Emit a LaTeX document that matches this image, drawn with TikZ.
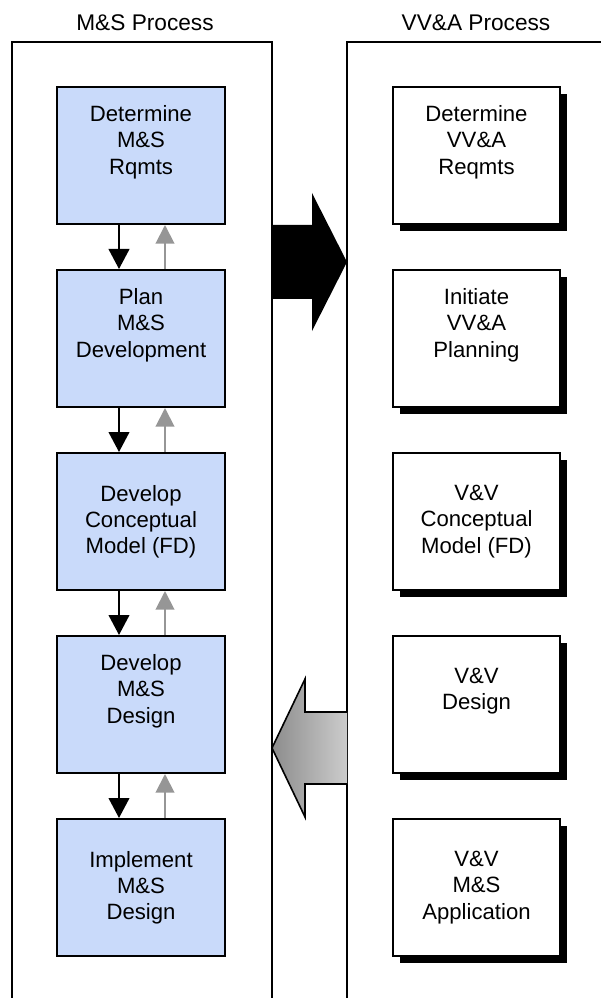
\documentclass[tikz,border=0pt]{standalone}
\usepackage{fontspec}
\setmainfont{Liberation Sans}
\usetikzlibrary{arrows.meta,shadows,positioning}
\definecolor{msblue}{RGB}{201,218,250}
\definecolor{backgray}{RGB}{150,150,150}

\begin{document}
\begin{tikzpicture}[x=0.75pt,y=-0.75pt]%
        \useasboundingbox (0,0) rectangle (600,998); %%
        %\draw[step=50,color=gray,very thin] (0,0) grid (600,998);%%
        \tikzstyle{boxtext}=[align=center,font=\fontsize{16.6}{19.6}\selectfont,inner sep=0pt] %%
        % titles
        \node[font=\fontsize{17}{20}\selectfont] (tms) at (145,23) {M\&S Process}; %%
        \node[font=\fontsize{17}{20}\selectfont] (tvv) at (476,23) {VV\&A Process}; %%
        % process frames
        \draw[line width=1.5pt] (12,1005)--(12,42)--(272,42)--(272,1005); %%
        \draw[line width=1.5pt] (347,1005)--(347,42)--(610,42); %%
        \begin{scope}[minimum width=126pt,minimum height=102.75pt,inner sep=0pt]
        \tikzstyle{every node}=[draw,line width=1.5pt,fill=msblue] %%
        \node (ms1) at (141,155.5) {}; %%
        \node (ms2) at (141,338.5) {}; %%
        \node (ms3) at (141,521.5) {}; %%
        \node (ms4) at (141,704.5) {}; %%
        \node (ms5) at (141,887.5) {}; %%
        \end{scope}
        \begin{scope}[minimum width=125.25pt,minimum height=102.75pt,inner sep=0pt]
        \tikzstyle{every node}=[draw,line width=1.5pt,fill=white,
          drop shadow={shadow xshift=5.5pt,shadow yshift=-5.5pt,fill=black,opacity=1}] %%
        \node (vv1) at (476.5,155.5) {}; %%
        \node (vv2) at (476.5,338.5) {}; %%
        \node (vv3) at (476.5,521.5) {}; %%
        \node (vv4) at (476.5,704.5) {}; %%
        \node (vv5) at (476.5,887.5) {}; %%
        \end{scope}
        % box texts
        \node[boxtext] (ms1t) at ([yshift=10pt]ms1.center) {Determine\\M\&S\\Rqmts}; %%
        \node[boxtext] (ms2t) at ([yshift=10pt]ms2.center) {Plan\\M\&S\\Development}; %%
        \node[boxtext] (ms3t) at (ms3.center) {Develop\\Conceptual\\Model (FD)}; %%
        \node[boxtext] (ms4t) at ([yshift=10pt]ms4.center) {Develop\\M\&S\\Design}; %%
        \node[boxtext] (ms5t) at (ms5.center) {Implement\\M\&S\\Design}; %%
        \node[boxtext] (vv1t) at ([yshift=10pt]vv1.center) {Determine\\VV\&A\\Reqmts}; %%
        \node[boxtext] (vv2t) at ([yshift=10pt]vv2.center) {Initiate\\VV\&A\\Planning}; %%
        \node[boxtext] (vv3t) at (vv3.center) {V\&V\\Conceptual\\Model (FD)}; %%
        \node[boxtext] (vv4t) at ([yshift=10pt]vv4.center) {V\&V\\Design}; %%
        \node[boxtext] (vv5t) at (vv5.center) {V\&V\\M\&S\\Application}; %%
        % forward and back links
        \tikzstyle{fwd}=[line width=1.5pt,-{Triangle[length=15pt,width=15.5pt]}] %%
        \tikzstyle{bck}=[line width=1.5pt,backgray,-{Triangle[length=14pt,width=14pt]}] %%
        \draw[fwd] ([xshift=-16.5pt]ms1.south)--([xshift=-16.5pt]ms2.north); %%
        \draw[bck] ([xshift=18pt]ms2.north)--([xshift=18pt]ms1.south); %%
        \draw[fwd] ([xshift=-16.5pt]ms2.south)--([xshift=-16.5pt]ms3.north); %%
        \draw[bck] ([xshift=18pt]ms3.north)--([xshift=18pt]ms2.south); %%
        \draw[fwd] ([xshift=-16.5pt]ms3.south)--([xshift=-16.5pt]ms4.north); %%
        \draw[bck] ([xshift=18pt]ms4.north)--([xshift=18pt]ms3.south); %%
        \draw[fwd] ([xshift=-16.5pt]ms4.south)--([xshift=-16.5pt]ms5.north); %%
        \draw[bck] ([xshift=18pt]ms5.north)--([xshift=18pt]ms4.south); %%
        % block arrows between the processes
        \fill[black] (271,225)--(312,225)--(312,193)--(347,262)--(312,331)--(312,299)--(271,299)--cycle; %%
        \draw[line width=1.2pt,left color=black!45,right color=black!20]
          (347,712)--(305,712)--(305,679)--(272,748)--(305,817)--(305,784)--(347,784); %%
        \end{tikzpicture}
\end{document}
